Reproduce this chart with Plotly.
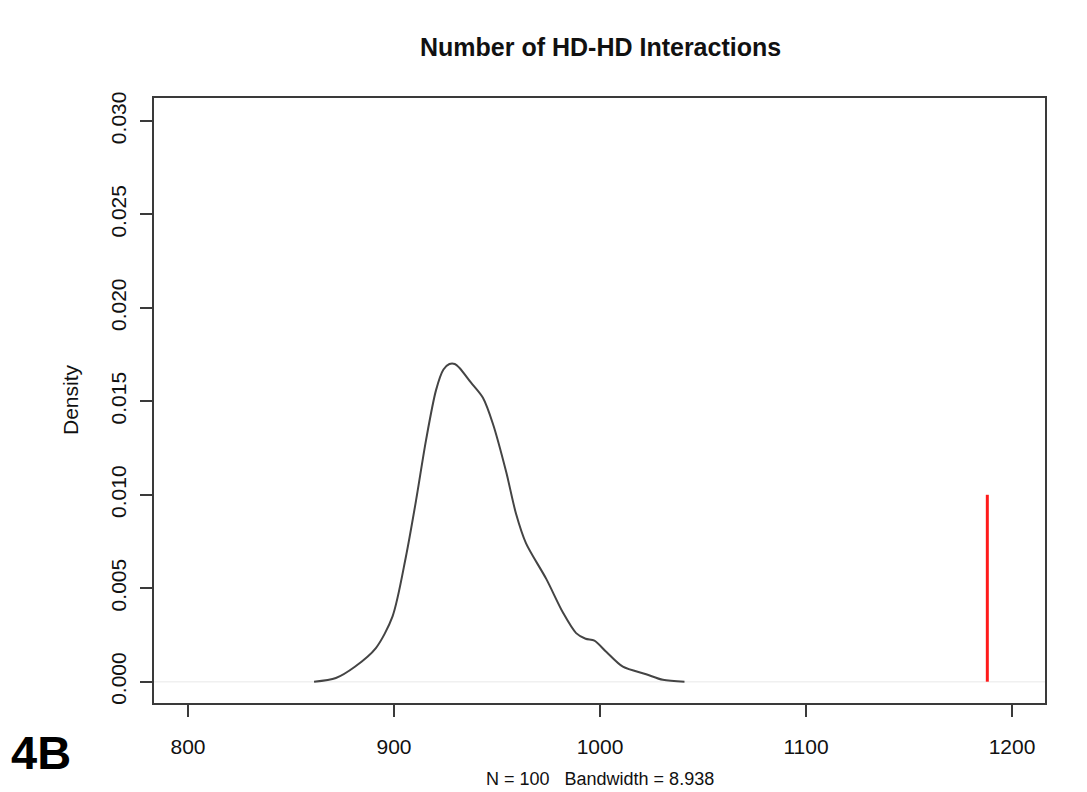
import plotly.graph_objects as go

# Density curve
dens_x = [861.2, 871.8, 881.0, 891.2, 899.3, 905.8, 910.7, 915.5, 920.4, 924.0, 926.9,
          929.5, 931.7, 937.4, 943.1, 948.0, 954.5, 959.2, 964.1, 973.9, 982.0,
          988.4, 993.0, 997.3, 1003.0, 1011.1, 1022.4, 1030.5, 1041.0]
dens_y = [0.0000, 0.0002, 0.0008, 0.0018, 0.0035, 0.0067, 0.0097, 0.0129, 0.0156, 0.0167, 0.0170,
          0.0170, 0.0168, 0.0160, 0.0152, 0.0138, 0.0112, 0.0090, 0.0074, 0.0055, 0.0037,
          0.0026, 0.0023, 0.0022, 0.0016, 0.0008, 0.0004, 0.0001, 0.0000]

# Observed value (red line)
obs_x = [1188.0, 1188.0]
obs_y = [0.0, 0.0100]

x_ticks = [800, 900, 1000, 1100, 1200]
y_ticks = [0.000, 0.005, 0.010, 0.015, 0.020, 0.025, 0.030]
y_ticklabels = ["0.000", "0.005", "0.010", "0.015", "0.020", "0.025", "0.030"]

title_text = "Number of HD-HD Interactions"
ylab_text = "Density"
xlab_text = "N = 100   Bandwidth = 8.938"
panel_text = "4B"

# page body has an 8px default margin: figure is offset by (8, 8)
OFF = 8
W, H = 1087 - OFF, 792 - OFF
L, R, T, B = 154 - OFF, 42, 98 - OFF, 89
PW, PH = W - L - R, H - T - B

def px(x):
    return (x - OFF - L) / PW

def py(y):
    return (H - B - (y - OFF)) / PH

FONT = "Liberation Sans, Arial, Helvetica, sans-serif"
AX = "#3a3a3a"

fig = go.Figure()
fig.add_trace(go.Scatter(x=[783.5, 1216], y=[0, 0], mode="lines",
                         line=dict(color="#f0f0f0", width=1.5), hoverinfo="skip", showlegend=False))
fig.add_trace(go.Scatter(x=dens_x, y=dens_y, mode="lines",
                         line=dict(color="#444444", width=2, shape="spline", smoothing=0.8),
                         showlegend=False))
fig.add_trace(go.Scatter(x=obs_x, y=obs_y, mode="lines", line=dict(color="#ff1a1a", width=3),
                         showlegend=False))

fig.update_layout(
    width=W, height=H,
    margin=dict(l=L, r=R, t=T, b=B),
    paper_bgcolor="white", plot_bgcolor="white",
    font=dict(family=FONT, color="#111111", size=21),
    showlegend=False,
    xaxis=dict(range=[783.5, 1216], tickvals=x_ticks, ticktext=[str(v) for v in x_ticks],
               ticks="outside", ticklen=12, tickwidth=1.5, tickcolor=AX,
               showline=True, linecolor=AX, linewidth=2, mirror=True,
               showgrid=False, zeroline=False, ticklabelstandoff=12,
               tickfont=dict(size=21, color="#111111")),
    yaxis=dict(range=[-0.00114, 0.03123], tickvals=y_ticks, ticktext=y_ticklabels,
               ticks="outside", ticklen=12, tickwidth=1.5, tickcolor=AX, tickangle=-90,
               showline=True, linecolor=AX, linewidth=2, mirror=True,
               showgrid=False, zeroline=False, ticklabelstandoff=6,
               tickfont=dict(size=21, color="#111111")),
)

fig.add_annotation(text="<b>" + title_text + "</b>", xref="paper", yref="paper",
                   x=px(600), y=py(47), showarrow=False, font=dict(size=25, family=FONT, color="#111111"),
                   xanchor="center", yanchor="middle")
fig.add_annotation(text=ylab_text, xref="paper", yref="paper", textangle=-90,
                   x=px(70), y=py(400), showarrow=False, font=dict(size=21, family=FONT, color="#111111"),
                   xanchor="center", yanchor="middle")
fig.add_annotation(text=xlab_text, xref="paper", yref="paper",
                   x=px(600), y=py(779), showarrow=False, font=dict(size=18, family=FONT, color="#111111"),
                   xanchor="center", yanchor="middle")
fig.add_annotation(text="<b>" + panel_text + "</b>", xref="paper", yref="paper",
                   x=px(10), y=py(752), showarrow=False, font=dict(size=47, family=FONT, color="#000000"),
                   xanchor="left", yanchor="middle", borderpad=0)

fig.write_html("out.html")
